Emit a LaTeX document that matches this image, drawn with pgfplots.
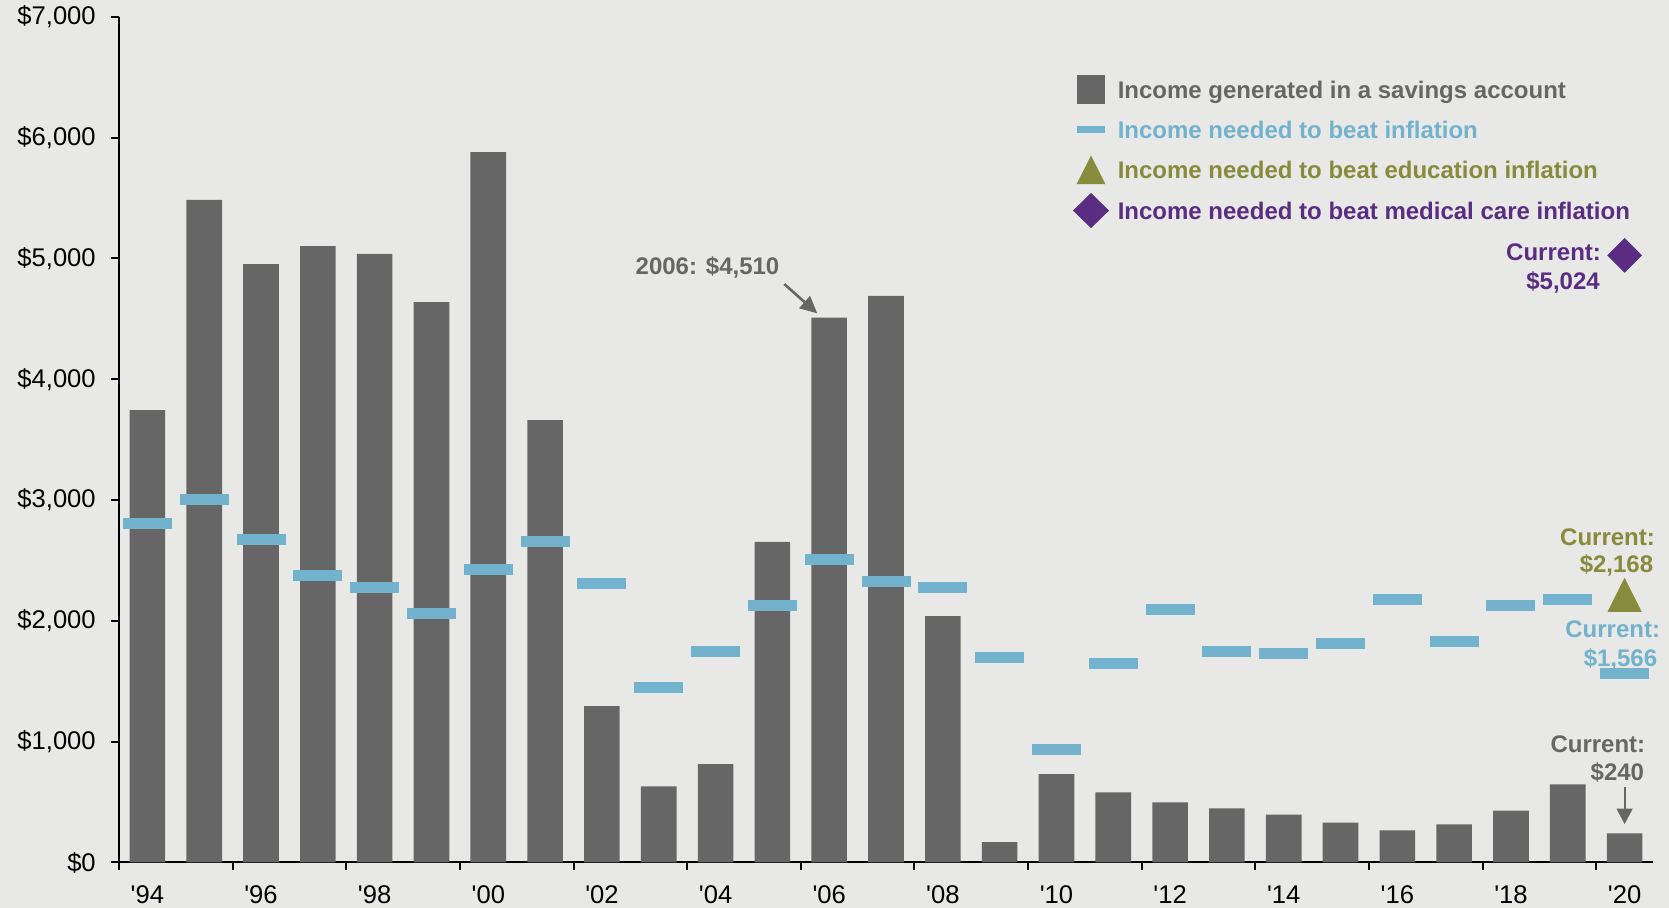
\documentclass[border=0pt]{standalone}
\usepackage{pgfplots}
\pgfplotsset{compat=1.18}
\usepackage{fontspec}
\setmainfont{Liberation Sans}
\usetikzlibrary{arrows.meta}
\definecolor{bgcol}{RGB}{232,232,230}
\definecolor{barcol}{RGB}{102,102,102}
\definecolor{infl}{RGB}{114,178,204}
\definecolor{edu}{RGB}{135,139,60}
\definecolor{med}{RGB}{90,45,130}
\newcommand\bfont{\fontsize{12}{14}\selectfont\bfseries}
\begin{document}
\begin{tikzpicture}
\fill[bgcol] (-59.5pt,-22.75pt) rectangle (775pt,431.25pt);
\begin{axis}[
  at={(0pt,0pt)}, anchor=south west,
  scale only axis, width=767pt, height=422.9pt,
  xmin=1993.5, xmax=2020.5, ymin=0, ymax=7000,
  axis x line*=bottom, axis y line*=left,
  axis line style={line width=1pt, black},
  clip=false,
  tick align=outside,
  tick style={black, line width=1pt},
  major tick length=3.8pt,
  minor tick length=3.7pt,
  ytick={0,1000,...,7000},
  yticklabels={{\$0},{\$1,000},{\$2,000},{\$3,000},{\$4,000},{\$5,000},{\$6,000},{\$7,000}},
  xtick={1994,1996,...,2020},
  xticklabels={\textquotesingle94,\textquotesingle96,\textquotesingle98,\textquotesingle00,\textquotesingle02,\textquotesingle04,\textquotesingle06,\textquotesingle08,\textquotesingle10,\textquotesingle12,\textquotesingle14,\textquotesingle16,\textquotesingle18,\textquotesingle20},
  major x tick style={draw=none},
  minor xtick={1993.5,1995.5,...,2019.5},
  yticklabel style={font=\fontsize{12.8}{14}\selectfont, xshift=-4.3pt},
  xticklabel style={font=\fontsize{12.8}{14}\selectfont, yshift=-4.2pt},
  legend style={at={(rel axis cs:0.624,0.9294)}, anchor=north west, draw=none, fill=none,
    inner sep=0pt, row sep=6pt, font=\bfont},
  legend cell align=left,
]
\addplot[ybar, bar width=17.8pt, fill=barcol, draw=none,
  legend image code/.code={\fill[barcol,overlay] (0pt,-6.4pt) rectangle (14.4pt,8pt);
    \path[draw=none,fill=none] (0pt,0.8pt) -- (18.6pt,0.8pt);}]
coordinates {
(1994,3744) (1995,5483) (1996,4953) (1997,5102) (1998,5036) (1999,4638)
(2000,5880) (2001,3661) (2002,1295) (2003,630) (2004,814) (2005,2653)
(2006,4510) (2007,4689) (2008,2038) (2009,169) (2010,732) (2011,580)
(2012,497) (2013,447) (2014,397) (2015,331) (2016,265) (2017,315)
(2018,430) (2019,646) (2020,240)};
\addlegendentry{\textcolor{barcol}{Income generated in a savings account}}
\addplot[only marks, mark=-, mark size=12.25pt, infl,
  mark options={line width=5.3pt, draw=infl},
  legend image code/.code={\draw[infl, line width=3.3pt, overlay] (0.3pt,0.8pt) -- (14.1pt,0.8pt);
    \path[draw=none,fill=none] (0pt,0.8pt) -- (18.6pt,0.8pt);}]
coordinates {
(1994,2806) (1995,3005) (1996,2674) (1997,2376) (1998,2276) (1999,2061)
(2000,2425) (2001,2657) (2002,2310) (2003,1449) (2004,1748) (2005,2128)
(2006,2507) (2007,2327) (2008,2277) (2009,1697) (2010,936) (2011,1647)
(2012,2094) (2013,1746) (2014,1730) (2015,1813) (2016,2177) (2017,1829)
(2018,2127) (2019,2177) (2020,1566)};
\addlegendentry{\textcolor{infl}{Income needed to beat inflation}}
\addplot[only marks, mark=triangle*, mark size=9.5pt, edu,
  mark options={draw=none, fill=edu, yscale=1.15},
  legend image code/.code={\fill[edu, overlay] (0.3pt,-6.03pt) -- (14.1pt,-6.03pt) -- (7.2pt,7.63pt) -- cycle;
    \path[draw=none,fill=none] (0pt,0.8pt) -- (18.6pt,0.8pt);}]
coordinates {(2020,2168)};
\addlegendentry{\textcolor{edu}{Income needed to beat education inflation}}
\addplot[only marks, mark=square*, mark size=5.94pt, med,
  mark options={draw=none, fill=med, rotate=45},
  legend image code/.code={\fill[med, overlay] (7.2pt,-7.7pt) -- (15.9pt,0.8pt) -- (7.2pt,9.3pt) -- (-1.5pt,0.8pt) -- cycle;
    \path[draw=none,fill=none] (0pt,0.8pt) -- (18.6pt,0.8pt);}]
coordinates {(2020,5024)};
\addlegendentry{\textcolor{med}{Income needed to beat medical care inflation}}

\node[anchor=base east, inner sep=0pt, text=barcol, font=\bfont] at (axis cs:2005.13,4866) {2006: \$4,510};
\draw[barcol, line width=1.3pt, -{Triangle[length=8.5pt,width=8pt]}] (axis cs:2005.21,4787) -- (axis cs:2005.79,4545);
\node[anchor=base east, inner sep=0pt, text=med, font=\bfont] at (axis cs:2019.59,4980) {Current:};
\node[anchor=base east, inner sep=0pt, text=med, font=\bfont] at (axis cs:2019.57,4743) {\$5,024};
\node[anchor=base east, inner sep=0pt, text=edu, font=\bfont] at (axis cs:2020.54,2627) {Current:};
\node[anchor=base east, inner sep=0pt, text=edu, font=\bfont] at (axis cs:2020.51,2397) {\$2,168};
\node[anchor=base east, inner sep=0pt, text=infl, font=\bfont] at (axis cs:2020.63,1862) {Current:};
\node[anchor=base east, inner sep=0pt, text=infl, font=\bfont] at (axis cs:2020.58,1625) {\$1,566};
\node[anchor=base east, inner sep=0pt, text=barcol, font=\bfont] at (axis cs:2020.37,907) {Current:};
\node[anchor=base east, inner sep=0pt, text=barcol, font=\bfont] at (axis cs:2020.35,681) {\$240};
\draw[barcol, line width=1pt, -{Triangle[length=7.8pt,width=7.9pt]}] (axis cs:2020,626) -- (axis cs:2020,317);
\end{axis}
\pgfresetboundingbox
\path[use as bounding box] (-59.5pt,-22.75pt) rectangle (775pt,431.25pt);
\end{tikzpicture}
\end{document}
